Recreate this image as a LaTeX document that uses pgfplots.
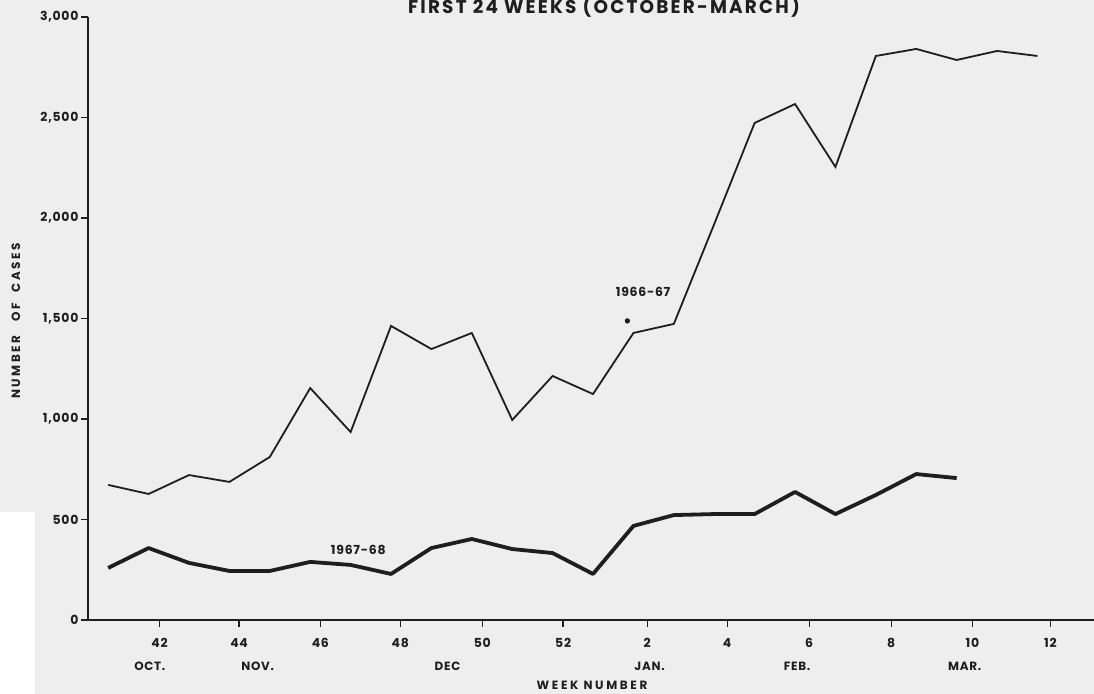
\documentclass[border=0pt]{standalone}
\usepackage{pgfplots}
\pgfplotsset{compat=1.18}
\usepackage{pgfplotstable}
\usepackage{fontspec}
\setmainfont{Poppins}[LetterSpace=6]
\newfontfamily\titlefont{Poppins}[LetterSpace=12]
\newfontfamily\widefont{Poppins}[LetterSpace=22]
\definecolor{ink}{HTML}{1E1E1E}
\definecolor{paper}{HTML}{EEEEEE}

% index 0..23 = weeks 41..52, 1..12
\pgfplotstableread{
i v
0 672
1 627
2 721
3 687
4 811
5 1154
6 935
7 1463
8 1348
9 1428
10 995
11 1214
12 1124
13 1428
14 1473
15 1970
16 2473
17 2567
18 2254
19 2806
20 2841
21 2786
22 2831
23 2806
}\seasonA

\pgfplotstableread{
i v
0 259
1 358
2 284
3 244
4 244
5 289
6 274
7 229
8 358
9 403
10 353
11 333
12 229
13 468
14 522
15 527
16 527
17 637
18 527
19 622
20 726
21 706
}\seasonB

\begin{document}
\begin{tikzpicture}[x=1bp,y=1bp]
\useasboundingbox (0,0) rectangle (1094,694);
\fill[paper] (0,0) rectangle (1094,694);
\fill[white] (0,0) rectangle (35,182);
\begin{axis}[
  at={(88bp,74bp)}, anchor=south west, scale only axis,
  width=1006bp, height=603bp,
  xmin=-0.5, xmax=24.4, ymin=0, ymax=3000,
  axis x line=bottom, axis y line=left,
  axis line style={-, line width=2bp, draw=ink},
  tick align=outside,
  xtick=\empty,
  minor xtick={0.5,1.5,...,23.5},
  minor tick length=3.5bp,
  minor tick style={line width=1bp, draw=ink},
  extra x ticks={1.27,3.24,5.25,7.23,9.26,11.26,13.34,15.32,17.35,19.38,21.39,23.32},
  extra x tick labels={42,44,46,48,50,52,2,4,6,8,10,12},
  extra x tick style={tick style={draw=none}},
  xticklabel style={anchor=center, yshift=-16bp},
  ytick={0,500,1000,1500,2000,2500,3000},
  yticklabels={0,500,{1,000},{1,500},{2,000},{2,500},{3,000}},
  major tick length=7bp,
  major tick style={line width=1.3bp, draw=ink},
  tick label style={font=\bfseries\fontsize{12.5}{12.5}\selectfont, text=ink},
  yticklabel style={xshift=1bp},
  /pgf/number format/assume math mode=true,
  clip=false,
]
\addplot[ink, line width=1.8bp] table[x=i, y=v] {\seasonA};
\addplot[ink, line width=3.8bp, line join=round] table[x=i, y=v] {\seasonB};
\addplot[only marks, mark=*, mark size=2.4bp, ink] coordinates {(12.85,1488)};
\node[font=\bfseries\fontsize{12.5}{12.5}\selectfont, text=ink] at (axis cs:13.24,1632) {1966-67};
\node[font=\bfseries\fontsize{12.5}{12.5}\selectfont, text=ink] at (axis cs:6.19,348) {1967-68};
\node[font=\bfseries\fontsize{12}{12}\selectfont, text=ink, yshift=-46bp] at (axis cs:1.03,0) {OCT.};
\node[font=\bfseries\fontsize{12}{12}\selectfont, text=ink, yshift=-46bp] at (axis cs:3.7,0) {NOV.};
\node[font=\bfseries\fontsize{12}{12}\selectfont, text=ink, yshift=-46bp] at (axis cs:8.4,0) {DEC};
\node[font=\bfseries\fontsize{12}{12}\selectfont, text=ink, yshift=-46bp] at (axis cs:13.4,0) {JAN.};
\node[font=\bfseries\fontsize{12}{12}\selectfont, text=ink, yshift=-46bp] at (axis cs:17.05,0) {FEB.};
\node[font=\bfseries\fontsize{12}{12}\selectfont, text=ink, yshift=-46bp] at (axis cs:21.2,0) {MAR.};
\end{axis}
\node[anchor=base, font=\titlefont\bfseries\fontsize{18.5}{18.5}\selectfont, text=ink] at (604,680) {FIRST 24 WEEKS (OCTOBER-MARCH)};
\node[anchor=base, font=\widefont\bfseries\fontsize{12}{12}\selectfont, text=ink] at (592,4.5) {WEEK NUMBER};
\node[rotate=90, font=\widefont\bfseries\fontsize{12}{12}\selectfont, text=ink] at (16,373) {NUMBER\hspace{14bp}OF\hspace{10bp}CASES};
\end{tikzpicture}
\end{document}
